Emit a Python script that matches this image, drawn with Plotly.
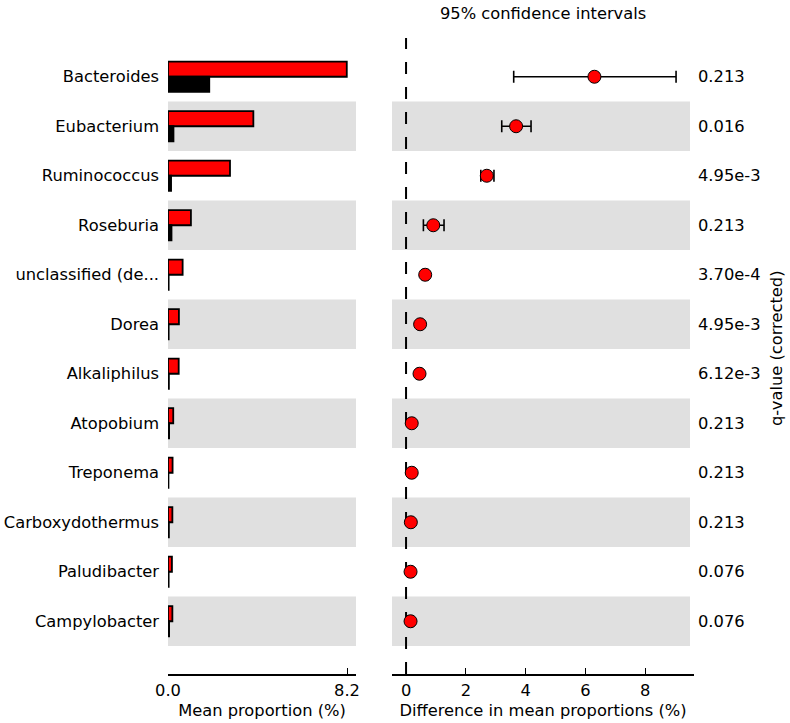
import plotly.graph_objects as go

taxa = ["Bacteroides", "Eubacterium", "Ruminococcus", "Roseburia", "unclassified (de...",
        "Dorea", "Alkaliphilus", "Atopobium", "Treponema", "Carboxydothermus",
        "Paludibacter", "Campylobacter"]
mean_group1 = [8.19, 3.91, 2.84, 1.05, 0.67, 0.50, 0.49, 0.24, 0.21, 0.20, 0.18, 0.20]
mean_group2 = [1.89, 0.25, 0.14, 0.16, 0.03, 0.03, 0.04, 0.05, 0.02, 0.04, 0.03, 0.05]
diff = [6.30, 3.68, 2.70, 0.91, 0.64, 0.47, 0.45, 0.19, 0.19, 0.16, 0.15, 0.15]
ci_low = [3.60, 3.20, 2.50, 0.58, 0.55, 0.40, 0.38, 0.12, 0.12, 0.09, 0.08, 0.08]
ci_high = [9.03, 4.18, 2.94, 1.27, 0.73, 0.54, 0.52, 0.26, 0.26, 0.23, 0.22, 0.22]
q_values = ["0.213", "0.016", "4.95e-3", "0.213", "3.70e-4", "4.95e-3", "6.12e-3",
            "0.213", "0.213", "0.213", "0.076", "0.076"]
left_ticks = [0.0, 8.2]
right_ticks = [0, 2, 4, 6, 8]

n = len(taxa)
ypos = [n - 1 - i for i in range(n)]
FONT = "DejaVu Sans"
FS = 16.3

W, H = 790, 723
L, T = 168, 52
plot_w = 694 - 168
plot_h = 674 - 52
R = W - L - plot_w
B = H - T - plot_h
row_h = (plot_h - 28) / n
gap_rows = 28 / row_h

fig = go.Figure()

bar_w = 15.2 / row_h
fig.add_trace(go.Bar(
    x=mean_group1, y=ypos, orientation="h", width=bar_w, offset=0,
    marker=dict(color="#ff0000", line=dict(color="black", width=1.8)),
    xaxis="x", yaxis="y", showlegend=False, hoverinfo="x+y"))
fig.add_trace(go.Bar(
    x=mean_group2, y=ypos, orientation="h", width=bar_w, offset=-bar_w,
    marker=dict(color="black", line=dict(color="black", width=1.8)),
    xaxis="x", yaxis="y", showlegend=False, hoverinfo="x+y"))

fig.add_trace(go.Scatter(
    x=diff, y=ypos, mode="markers",
    marker=dict(color="#ff0000", size=13, line=dict(color="black", width=1)),
    error_x=dict(type="data", symmetric=False,
                 array=[h - d for h, d in zip(ci_high, diff)],
                 arrayminus=[d - l for d, l in zip(diff, ci_low)],
                 color="black", thickness=1.6, width=6),
    xaxis="x2", yaxis="y2", showlegend=False))

shapes = []
for i in range(n):
    if i % 2 == 1:
        y = ypos[i]
        shapes.append(dict(type="rect", xref="x domain", yref="y", x0=0, x1=1,
                           y0=y - 0.5, y1=y + 0.5, fillcolor="#e0e0e0",
                           line=dict(width=0), layer="below"))
        shapes.append(dict(type="rect", xref="x2 domain", yref="y2", x0=0, x1=1 - 4 / 302,
                           y0=y - 0.5, y1=y + 0.5, fillcolor="#e0e0e0",
                           line=dict(width=0), layer="below"))
shapes.append(dict(type="line", xref="x2", yref="paper", x0=0, x1=0, y0=0,
                   y1=1 + 14 / plot_h, line=dict(color="black", width=2, dash="12px,13px"),
                   layer="below"))

annotations = []
for i in range(n):
    annotations.append(dict(x=1 + 2 / plot_w, xref="paper", y=ypos[i], yref="y2",
                            text=q_values[i], showarrow=False, xanchor="left",
                            font=dict(family=FONT, size=FS, color="black")))
annotations.append(dict(x=1 + 82 / plot_w, xref="paper", y=(ypos[0] + ypos[-1]) / 2, yref="y2",
                        text="q-value (corrected)", showarrow=False, textangle=-90,
                        xanchor="center", yanchor="middle",
                        font=dict(family=FONT, size=FS, color="black")))
annotations.append(dict(x=0.5, xref="x2 domain", y=1 + (T - 13) / plot_h, yref="paper",
                        text="95% confidence intervals", showarrow=False,
                        yanchor="middle", xanchor="center",
                        font=dict(family=FONT, size=FS, color="black")))

yr = [-0.5 - gap_rows, n - 0.5]
left_dom = [0, 188 / plot_w]
right_dom = [(392 - 168) / plot_w, 1]

fig.update_layout(
    width=W, height=H,
    margin=dict(l=L, r=R, t=T, b=B, pad=0),
    plot_bgcolor="white", paper_bgcolor="white",
    font=dict(family=FONT, size=FS, color="black"),
    barmode="overlay",
    shapes=shapes, annotations=annotations,
    xaxis=dict(domain=left_dom, range=[0, 8.2 * 188 / 179], tickvals=left_ticks,
               ticktext=["0.0", "8.2"], ticks="inside", ticklen=6, tickwidth=1,
               tickcolor="black", showline=True, linecolor="black", linewidth=2,
               showgrid=False, zeroline=False, anchor="y", automargin=False,
               tickfont=dict(family=FONT, size=FS),
               title=dict(text="Mean proportion (%)", standoff=6,
                          font=dict(family=FONT, size=FS))),
    yaxis=dict(domain=[0, 1], range=yr, tickvals=ypos, ticktext=taxa, ticks="",
               showline=False, showgrid=False, zeroline=False, anchor="x",
               automargin=False, ticklabelstandoff=8,
               tickfont=dict(family=FONT, size=FS)),
    xaxis2=dict(domain=right_dom, range=[-0.47, 9.63], tickvals=right_ticks,
                ticks="inside", ticklen=6, tickwidth=1, tickcolor="black",
                showline=True, linecolor="black", linewidth=2, showgrid=False,
                zeroline=False, anchor="y2", automargin=False,
                tickfont=dict(family=FONT, size=FS),
                title=dict(text="Difference in mean proportions (%)", standoff=6,
                           font=dict(family=FONT, size=FS))),
    yaxis2=dict(domain=[0, 1], range=yr, showticklabels=False, ticks="",
                showline=False, showgrid=False, zeroline=False, anchor="x2"),
)

fig.write_html("out.html", config={"displayModeBar": False},
               post_script="document.body.style.margin='0';document.body.style.overflow='hidden';")
